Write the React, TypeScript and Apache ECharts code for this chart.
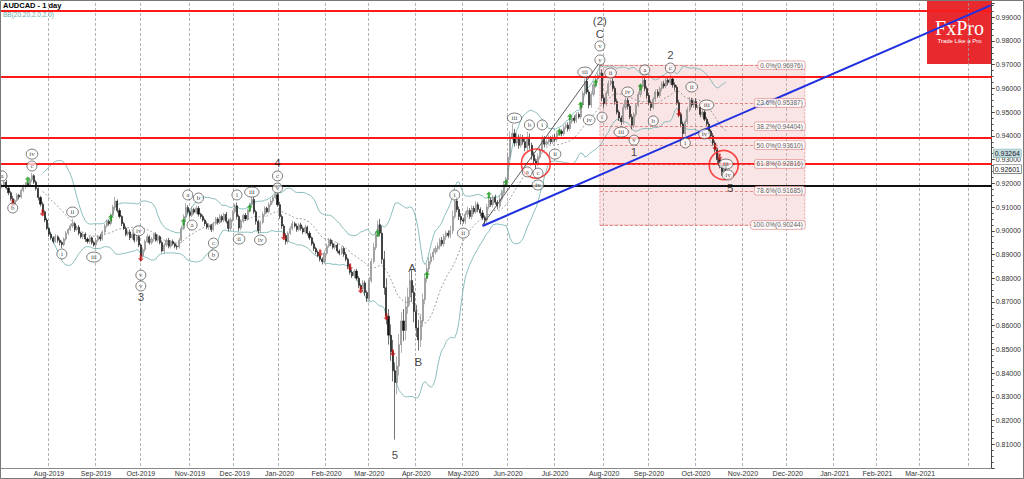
import React, { useEffect, useRef } from "react";
import * as echarts from "echarts";

// ---------- data ----------
const firstOpen = 0.9185;
const closes: number[] = [
  0.9192, 0.9205, 0.918, 0.916, 0.9135, 0.9112, 0.9128, 0.915, 0.9142, 0.917,
  0.9185, 0.92, 0.9192, 0.9215, 0.9232, 0.9205, 0.9178, 0.914, 0.9112, 0.908,
  0.9045, 0.901, 0.8985, 0.897, 0.8955, 0.8975, 0.896, 0.895, 0.8942, 0.8965,
  0.899, 0.9005, 0.902, 0.903, 0.9005, 0.9015, 0.899, 0.8975, 0.8985, 0.8965,
  0.8955, 0.897, 0.895, 0.894, 0.896, 0.8975, 0.8965, 0.8995, 0.902, 0.904,
  0.903, 0.9065, 0.91, 0.9125, 0.9085, 0.906, 0.903, 0.901, 0.8985, 0.8995,
  0.897, 0.8985, 0.896, 0.8975, 0.894, 0.8895, 0.892, 0.8955, 0.8975, 0.895,
  0.8965, 0.8985, 0.896, 0.8975, 0.895, 0.8915, 0.894, 0.896, 0.8935, 0.8955,
  0.8945, 0.8935, 0.8932, 0.896, 0.901, 0.906, 0.9098, 0.908, 0.9065, 0.909,
  0.9078, 0.9095, 0.907, 0.906, 0.9045, 0.903, 0.9015, 0.9022, 0.9005, 0.903,
  0.905, 0.9035, 0.906, 0.9045, 0.907, 0.904, 0.901, 0.9045, 0.908, 0.9105,
  0.906, 0.9012, 0.904, 0.9065, 0.905, 0.9085, 0.911, 0.9132, 0.908, 0.904,
  0.9, 0.9035, 0.907, 0.9095, 0.908, 0.911, 0.9125, 0.914, 0.9152, 0.911,
  0.906, 0.902, 0.898, 0.8955, 0.899, 0.901, 0.903, 0.902, 0.9005, 0.9025,
  0.901, 0.8995, 0.9015, 0.899, 0.897, 0.8945, 0.8925, 0.891, 0.8895, 0.888,
  0.887, 0.8905, 0.8935, 0.896, 0.8945, 0.893, 0.894, 0.8915, 0.8905, 0.8925,
  0.89, 0.888, 0.885, 0.8825, 0.881, 0.883, 0.88, 0.877, 0.8755, 0.878,
  0.874, 0.8715, 0.879, 0.887, 0.893, 0.8985, 0.9025, 0.899, 0.888, 0.876,
  0.864, 0.856, 0.849, 0.841, 0.836, 0.843, 0.852, 0.862, 0.858, 0.868,
  0.872, 0.879, 0.874, 0.866, 0.859, 0.854, 0.862, 0.871, 0.88, 0.884,
  0.887, 0.889, 0.891, 0.8925, 0.8935, 0.896, 0.8945, 0.8975, 0.899, 0.898,
  0.9, 0.906, 0.9125, 0.909, 0.906, 0.9045, 0.904, 0.907, 0.9085, 0.906,
  0.9095, 0.908, 0.911, 0.909, 0.9075, 0.9055, 0.9045, 0.91, 0.913, 0.911,
  0.914, 0.912, 0.9105, 0.9135, 0.916, 0.9195, 0.9215, 0.931, 0.9395, 0.941,
  0.937, 0.9395, 0.936, 0.939, 0.9375, 0.935, 0.9395, 0.936, 0.932, 0.9295,
  0.9285, 0.931, 0.934, 0.9385, 0.9365, 0.9375, 0.939, 0.9375, 0.9395, 0.9385,
  0.941, 0.942, 0.941, 0.9435, 0.9445, 0.943, 0.946, 0.9475, 0.9465, 0.949,
  0.948, 0.953, 0.958, 0.963, 0.9585, 0.953, 0.9575, 0.9615, 0.964, 0.9655,
  0.9665, 0.956, 0.9535, 0.958, 0.962, 0.963, 0.96, 0.9545, 0.95, 0.9475,
  0.946, 0.952, 0.955, 0.9525, 0.948, 0.9445, 0.949, 0.953, 0.9575, 0.961,
  0.9635, 0.96, 0.957, 0.954, 0.952, 0.9555, 0.9585, 0.957, 0.96, 0.962,
  0.961, 0.9635, 0.9625, 0.964, 0.9615, 0.9605, 0.954, 0.949, 0.945, 0.941,
  0.946, 0.951, 0.955, 0.953, 0.9545, 0.952, 0.952, 0.949, 0.95, 0.947,
  0.945, 0.942, 0.94, 0.937, 0.934, 0.93, 0.9275, 0.925, 0.927, 0.926,
];
const wickUpPips: number[] = [
  8, 6, 10, 5, 7, 12, 6, 9, 5, 8, 10, 6, 7, 9, 12, 6, 8, 5, 7, 10,
  6, 8, 5, 9, 7, 12, 6, 10, 8, 7, 9, 6, 10, 20, 8, 7, 9, 6, 10, 8,
  7, 9, 6, 8, 10, 7, 12, 6, 9, 8, 5, 10, 9, 18, 7, 10, 6, 8, 9, 7,
  10, 8, 6, 9, 7, 5, 10, 8, 12, 6, 9, 7, 8, 10, 6, 9, 7, 8, 10, 6,
  8, 6, 7, 10, 12, 9, 18, 10, 8, 11, 7, 9, 10, 6, 8, 7, 9, 10, 6, 8,
  9, 7, 10, 8, 6, 9, 8, 10, 7, 9, 14, 8, 9, 7, 10, 8, 9, 12, 10, 8,
  7, 9, 10, 8, 6, 10, 9, 8, 14, 10, 12, 9, 8, 10, 7, 9, 12, 8, 10, 7,
  9, 8, 10, 7, 9, 6, 10, 8, 7, 9, 8, 12, 10, 9, 7, 10, 8, 9, 7, 10,
  8, 10, 7, 9, 12, 8, 10, 9, 7, 12, 10, 8, 15, 14, 20, 12, 18, 25, 30, 35,
  40, 30, 45, 50, 35, 40, 45, 38, 50, 42, 40, 35, 45, 30, 28, 35, 30, 25, 20, 22,
  18, 15, 14, 12, 15, 10, 14, 12, 10, 12, 20, 25, 18, 18, 12, 14, 10, 12, 15, 10,
  12, 10, 14, 10, 9, 12, 10, 14, 12, 10, 9, 12, 10, 14, 12, 15, 12, 20, 25, 40,
  20, 15, 12, 18, 14, 20, 22, 15, 12, 14, 10, 15, 12, 18, 14, 10, 12, 9, 10, 12,
  10, 12, 8, 10, 9, 12, 10, 8, 12, 10, 9, 11, 10, 12, 14, 10, 12, 10, 14, 12,
  33, 15, 12, 10, 14, 8, 12, 10, 12, 9, 10, 14, 12, 10, 9, 12, 10, 9, 12, 10,
  14, 10, 9, 12, 10, 8, 10, 12, 9, 10, 12, 14, 10, 18, 12, 10, 9, 12, 10, 8,
  10, 12, 14, 10, 9, 12, 10, 8, 12, 10, 9, 10, 8, 12, 10, 9, 8, 10, 12, 10,
];
const wickDownPips: number[] = [
  7, 9, 6, 10, 8, 5, 9, 7, 10, 6, 8, 9, 7, 6, 10, 8, 9, 12, 10, 8,
  9, 7, 10, 8, 9, 6, 10, 12, 15, 8, 7, 9, 6, 8, 10, 7, 9, 8, 10, 12,
  9, 10, 8, 7, 14, 8, 9, 7, 10, 6, 9, 8, 7, 10, 9, 8, 10, 7, 9, 8,
  9, 7, 10, 8, 9, 25, 8, 10, 7, 9, 8, 10, 6, 9, 8, 7, 10, 8, 9, 10,
  7, 9, 12, 8, 10, 7, 9, 8, 10, 7, 9, 8, 10, 9, 7, 10, 8, 12, 10, 7,
  8, 9, 7, 10, 8, 9, 12, 10, 8, 7, 9, 14, 10, 8, 9, 7, 8, 10, 9, 14,
  12, 9, 8, 10, 7, 9, 8, 10, 7, 9, 10, 12, 9, 14, 10, 8, 9, 7, 10, 8,
  10, 9, 8, 10, 9, 8, 10, 9, 7, 10, 12, 8, 9, 7, 10, 8, 9, 10, 8, 7,
  10, 9, 12, 10, 9, 11, 10, 12, 9, 10, 14, 15, 12, 10, 9, 12, 10, 14, 20, 30,
  35, 40, 38, 45, 240, 50, 40, 35, 45, 40, 30, 35, 40, 45, 38, 45, 30, 25, 20, 18,
  15, 12, 14, 10, 12, 14, 10, 12, 15, 10, 12, 14, 10, 12, 15, 18, 10, 12, 14, 10,
  12, 10, 9, 12, 14, 10, 20, 12, 10, 9, 12, 10, 14, 10, 12, 9, 12, 10, 12, 14,
  15, 12, 14, 10, 12, 15, 14, 18, 20, 15, 25, 12, 10, 12, 14, 10, 12, 10, 9, 12,
  10, 9, 12, 10, 8, 12, 10, 9, 12, 10, 8, 10, 12, 9, 10, 14, 12, 10, 12, 10,
  12, 14, 18, 10, 12, 10, 12, 14, 10, 12, 15, 10, 12, 14, 10, 18, 12, 10, 9, 12,
  10, 12, 14, 10, 15, 10, 12, 9, 10, 12, 10, 9, 12, 10, 12, 14, 10, 12, 14, 18,
  10, 12, 9, 10, 12, 10, 9, 12, 10, 8, 10, 12, 9, 12, 10, 14, 12, 18, 10, 8,
];

const categoryCount = 464;
const monthNames = ["Jan", "Feb", "Mar", "Apr", "May", "Jun", "Jul", "Aug", "Sep", "Oct", "Nov", "Dec"];
const hiddenMonthLabels = ["Apr-2021"];

const redLevels = [0.9927, 0.9651, 0.9392, 0.9284];
const blackLevel = 0.9189;
const fibLevels = [0.96976, 0.95387, 0.94404, 0.9361, 0.92816, 0.91685, 0.90244];
const fibNames = ["0.0%", "23.6%", "38.2%", "50.0%", "61.8%", "78.6%", "100.0%"];
const fibFrom = 280;
const fibTo = 376;
const blueTrend: [number, number][] = [[225, 0.902], [463, 0.995]];
const blackTrend: [number, number][] = [[225, 0.9024], [280, 0.9711]];
const bidPrice = 0.92601;
const markPrice = 0.93264;

const upArrows: [number, number][] = [
  [12, 0.9214], [51, 0.9054], [85, 0.9037], [116, 0.9096], [176, 0.899], [199, 0.8813],
  [228, 0.9151], [236, 0.9201], [261, 0.9416], [266, 0.9479], [271, 0.953], [278, 0.9623], [299, 0.9606],
];
const downArrows: [number, number][] = [
  [5, 0.9117], [19, 0.9075], [65, 0.8885], [132, 0.8974], [149, 0.8906], [163, 0.8847],
  [168, 0.875], [180, 0.8636], [183, 0.8485], [317, 0.9496], [334, 0.9353], [336, 0.9311],
];
const circledLabels: [string, number, number][] = [
  ["a", 0, 0.9231], ["b", 5, 0.9096], ["iv", 14, 0.9323], ["c", 14, 0.9273], ["i", 28, 0.8902],
  ["ii", 33, 0.9079], ["iii", 43, 0.8889], ["iv", 64, 0.9], ["v", 65, 0.8813], ["v", 65, 0.8767],
  ["a", 87, 0.9151], ["a", 89, 0.9024], ["b", 92, 0.9138], ["c", 99, 0.8948], ["b", 99, 0.8898],
  ["i", 110, 0.9151], ["ii", 111, 0.8965], ["iii", 117, 0.9163], ["iv", 121, 0.8961], ["v", 129, 0.918],
  ["c", 129, 0.9231], ["i", 212, 0.9151], ["ii", 216, 0.899], ["iii", 240, 0.9475], ["b", 247, 0.9446],
  ["i", 253, 0.9446], ["ii", 259, 0.9323], ["a", 246, 0.9248], ["c", 251, 0.9243], ["iv", 251, 0.9193],
  ["iii", 273, 0.9669], ["iv", 275, 0.9467], ["v", 280, 0.972], ["v", 280, 0.9779], ["i", 281, 0.9479],
  ["ii", 285, 0.9665], ["iii", 290, 0.9416], ["iv", 293, 0.9585], ["v", 296, 0.9382], ["a", 301, 0.9678],
  ["b", 305, 0.9463], ["c", 313, 0.9686], ["i", 320, 0.937], ["ii", 323, 0.9606], ["iii", 330, 0.953],
  ["iv", 329, 0.9408], ["iii", 339, 0.9281], ["iv", 340, 0.9235],
];
const bigLabels: [string, number, number][] = [
  ["(2)", 280, 0.9884], ["C", 280, 0.9829], ["4", 129, 0.9286], ["3", 65, 0.8721], ["5", 184, 0.8055],
  ["A", 192, 0.8843], ["B", 195, 0.8447], ["1", 296, 0.9332], ["2", 313, 0.9741], ["5", 341, 0.918],
];
const redCircles: [number, number][] = [[250, 0.9283], [338, 0.9277]];

// ---------- helpers ----------
const FONT = "Liberation Sans, Arial, sans-serif";
const CLEAR = "rgba(0,0,0,0)";

function buildCategories() {
  const out: { y: number; m: number; d: number }[] = [];
  const dt = new Date(Date.UTC(2019, 6, 2));
  while (out.length < categoryCount) {
    const wd = dt.getUTCDay();
    const m = dt.getUTCMonth();
    const d = dt.getUTCDate();
    const holiday = (m === 11 && d === 25) || (m === 0 && d === 1);
    if (wd !== 0 && wd !== 6 && !holiday) out.push({ y: dt.getUTCFullYear(), m, d });
    dt.setUTCDate(dt.getUTCDate() + 1);
  }
  return out;
}

function buildOption() {
  const cats = buildCategories();
  const catNames = cats.map((c) => `${c.y}-${String(c.m + 1).padStart(2, "0")}-${String(c.d).padStart(2, "0")}`);
  const monthStart = cats.map((c, i) => i > 0 && c.m !== cats[i - 1].m);
  const isStart = (i: number) => !!monthStart[i];

  const candles = closes.map((c, i) => {
    const o = i === 0 ? firstOpen : closes[i - 1];
    const hi = Math.max(o, c) + wickUpPips[i] / 10000;
    const lo = Math.min(o, c) - wickDownPips[i] / 10000;
    return [o, c, lo, hi];
  });

  const mid: (number | null)[] = [];
  const up: (number | null)[] = [];
  const dn: (number | null)[] = [];
  closes.forEach((_, i) => {
    if (i < 19) {
      mid.push(null); up.push(null); dn.push(null);
      return;
    }
    const w = closes.slice(i - 19, i + 1);
    const mean = w.reduce((a, b) => a + b, 0) / 20;
    const sd = Math.sqrt(w.reduce((a, b) => a + (b - mean) * (b - mean), 0) / 20);
    mid.push(mean); up.push(mean + 2 * sd); dn.push(mean - 2 * sd);
  });

  const levelLines: any[] = [
    ...redLevels.map((v) => ({ yAxis: v, lineStyle: { color: "#ff1a1a", width: 2, type: "solid" } })),
    { yAxis: blackLevel, lineStyle: { color: "#111", width: 2, type: "solid" } },
    ...fibLevels.map((v) => [
      { coord: [fibFrom, v], lineStyle: { color: "#e07070", width: 0.8, type: [3, 2] } },
      { coord: [fibTo, v] },
    ]),
    [
      { coord: blueTrend[0], lineStyle: { color: "#2030e0", width: 2, type: "solid" } },
      { coord: blueTrend[1] },
    ],
    [
      { coord: blackTrend[0], lineStyle: { color: "#333", width: 0.8, type: "solid" } },
      { coord: blackTrend[1] },
    ],
  ];

  const priceTags: any[] = [
    {
      yAxis: markPrice,
      lineStyle: { color: CLEAR, width: 0 },
      label: {
        show: true, position: "end", distance: 2, formatter: markPrice.toFixed(5),
        backgroundColor: "#c4dcdc", borderColor: "#7aa", borderWidth: 0.5, padding: [1, 1, 0, 1],
        fontSize: 7, color: "#223", fontFamily: FONT,
      },
    },
    {
      yAxis: bidPrice,
      lineStyle: { color: CLEAR, width: 0 },
      label: {
        show: true, position: "end", distance: 2, formatter: bidPrice.toFixed(5),
        backgroundColor: "#fff", borderColor: "#555", borderWidth: 0.6, padding: [1, 1, 0, 1],
        fontSize: 7, color: "#111", fontFamily: FONT,
      },
    },
  ];

  return {
    animation: false,
    backgroundColor: "#ffffff",
    textStyle: { fontFamily: FONT },
    title: {
      text: "AUDCAD - 1 day",
      subtext: "BB(20,20,2.0,2.0)",
      left: 3,
      top: 1,
      itemGap: 2,
      padding: 0,
      textStyle: { fontSize: 7.5, fontWeight: "bold", color: "#000", fontFamily: FONT },
      subtextStyle: { fontSize: 6.5, color: "#6aa8a8", fontFamily: FONT },
    },
    grid: { left: 1, right: 31, top: 3, bottom: 11 },
    xAxis: {
      type: "category",
      data: catNames,
      boundaryGap: true,
      axisLine: { lineStyle: { color: "#888", width: 1 } },
      axisTick: { alignWithLabel: true, interval: (i: number) => isStart(i), length: 2, lineStyle: { color: "#666" } },
      axisLabel: {
        interval: (i: number) => isStart(i),
        formatter: (v: string) => {
          const [y, m] = v.split("-");
          const s = `${monthNames[Number(m) - 1]}-${y}`;
          return hiddenMonthLabels.includes(s) ? "" : s;
        },
        fontSize: 7,
        color: "#333",
        margin: 2,
        fontFamily: FONT,
      },
      splitLine: {
        show: true,
        interval: (i: number) => isStart(i),
        lineStyle: { color: "#a0a0a0", type: [3, 2], width: 0.8 },
      },
    },
    yAxis: {
      type: "value",
      position: "right",
      min: 0.8,
      max: 0.996,
      interval: 0.01,
      axisLine: { show: true, lineStyle: { color: "#444" } },
      axisTick: { show: true, length: 3, lineStyle: { color: "#444" } },
      minorTick: { show: true, splitNumber: 4, length: 2, lineStyle: { color: "#555" } },
      splitLine: { show: false },
      axisLabel: {
        fontSize: 7, color: "#333", margin: 4, fontFamily: FONT,
        showMinLabel: false, showMaxLabel: false,
        formatter: (v: number) => v.toFixed(5),
      },
    },
    graphic: [
      { type: "rect", z: 0, shape: { x: 927, y: 0, width: 65, height: 64 }, style: { fill: "#e8292e" } },
      {
        type: "text", z: 0, x: 959.5, y: 28,
        style: { text: "FxPro", fill: "#fff", font: "20px 'Liberation Serif', serif", align: "center", verticalAlign: "middle" },
      },
      {
        type: "text", z: 0, x: 959.5, y: 41,
        style: { text: "Trade Like a Pro", fill: "#fff", font: "6px 'Liberation Sans', sans-serif", align: "center", verticalAlign: "middle" },
      },
      {
        type: "rect", z: 10, silent: true, shape: { x: 0.5, y: 0.5, width: 1023, height: 478 },
        style: { fill: "none", stroke: "#777", lineWidth: 1 },
      },
    ],
    series: [
      {
        name: "BB mid", type: "line", data: mid, z: 1, showSymbol: false, symbol: "none", silent: true,
        lineStyle: { color: "#888", width: 0.8, type: [2, 2] },
        markArea: {
          silent: true,
          precision: 5,
          itemStyle: { color: "rgba(235,160,160,0.28)", borderColor: "#e08080", borderWidth: 0.6, borderType: "dashed" },
          data: [[{ coord: [fibFrom, fibLevels[0]] }, { coord: [fibTo, fibLevels[fibLevels.length - 1]] }]],
        },
      },
      { name: "BB up", type: "line", data: up, z: 1, showSymbol: false, symbol: "none", silent: true, lineStyle: { color: "#7db7b7", width: 0.9 } },
      { name: "BB dn", type: "line", data: dn, z: 1, showSymbol: false, symbol: "none", silent: true, lineStyle: { color: "#7db7b7", width: 0.9 } },
      {
        name: "AUDCAD", type: "candlestick", data: candles, z: 3, barWidth: 1.6, silent: true,
        itemStyle: { color: "#b0b0b0", color0: "#141414", borderColor: "#808080", borderColor0: "#141414", borderWidth: 0.6 },
        markLine: { silent: true, precision: 5, symbol: ["none", "none"], label: { show: false }, data: levelLines },
      },
      {
        name: "tags", type: "line", data: [], z: 7, silent: true,
        markLine: { silent: true, precision: 5, symbol: ["none", "none"], data: priceTags },
      },
      {
        type: "scatter", z: 4, silent: true, data: upArrows,
        symbol: "path://M4,0 L8,4 L5.5,4 L5.5,9 L2.5,9 L2.5,4 L0,4 Z", symbolSize: [6, 7],
        itemStyle: { color: "#1a9a1a" },
      },
      {
        type: "scatter", z: 4, silent: true, data: downArrows,
        symbol: "path://M2.5,0 L5.5,0 L5.5,5 L8,5 L4,9 L0,5 L2.5,5 Z", symbolSize: [6, 7],
        itemStyle: { color: "#c41010" },
      },
      {
        type: "scatter", z: 5, silent: true, data: redCircles, symbol: "circle", symbolSize: 29,
        itemStyle: { color: CLEAR, borderColor: "#ff1a1a", borderWidth: 1.6 },
      },
      {
        type: "scatter", z: 6, silent: true, symbol: "circle",
        data: circledLabels.map(([t, i, p]) => ({ name: t, value: [i, p], symbolSize: [Math.max(10, 6 + t.length * 2.8), 10] })),
        itemStyle: { color: "rgba(255,255,255,0.85)", borderColor: "#333", borderWidth: 0.8 },
        label: { show: true, position: "inside", formatter: "{b}", fontSize: 7, color: "#111", fontFamily: "Liberation Serif, serif" },
      },
      {
        type: "scatter", z: 6, silent: true, symbolSize: 0,
        data: bigLabels.map(([t, i, p]) => ({ name: t, value: [i, p] })),
        label: { show: true, position: "inside", formatter: "{b}", fontSize: 11.5, color: "#111", fontFamily: FONT },
      },
      {
        type: "scatter", z: 6, silent: true, symbolSize: 0,
        data: fibLevels.map((v, k) => ({ name: `${fibNames[k]}(${v.toFixed(5)})`, value: [fibTo, v] })),
        label: {
          show: true, position: "left", distance: 0, formatter: "{b}", fontSize: 6.5, color: "#333", fontFamily: FONT,
          backgroundColor: "#fff", borderColor: "#e08a8a", borderWidth: 0.7, borderRadius: 2, padding: [1, 2, 0, 2],
        },
      },
    ],
  };
}

export default function App() {
  const ref = useRef<HTMLDivElement>(null);
  useEffect(() => {
    document.body.style.margin = "0";
    if (!ref.current) return;
    const chart = echarts.init(ref.current, null, { renderer: "svg" });
    chart.setOption(buildOption() as any);
    return () => chart.dispose();
  }, []);
  return <div ref={ref} style={{ width: 1024, height: 479 }} />;
}
